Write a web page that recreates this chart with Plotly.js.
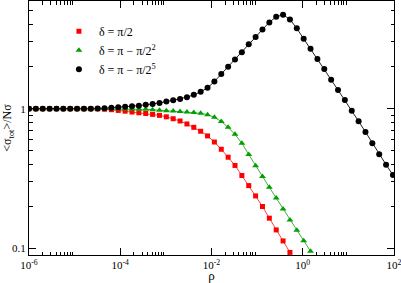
<!DOCTYPE html>
<html>
<head>
<meta charset="utf-8">
<script src="https://cdn.plot.ly/plotly-3.0.1.min.js"></script>
<style>
html,body{margin:0;padding:0;background:#fff;}
#chart{width:401px;height:283px;}
</style>
</head>
<body>
<div id="chart"></div>
<script>
// rho grid (x values)
var rho = [1e-6, 1.414e-6, 2e-6, 2.828e-6, 4e-6, 5.657e-6, 8e-6, 1.131e-5, 1.6e-5, 2.263e-5,
  3.2e-5, 4.525e-5, 6.4e-5, 9.051e-5, 1.28e-4, 1.810e-4, 2.56e-4, 3.620e-4, 5.12e-4, 7.241e-4,
  1.024e-3, 1.448e-3, 2.048e-3, 2.896e-3, 4.096e-3, 5.793e-3, 8.192e-3, 1.1585e-2, 1.6384e-2, 2.317e-2,
  3.2768e-2, 4.6341e-2, 6.5536e-2, 9.2682e-2, 0.131072, 0.185364, 0.262144, 0.370728, 0.524288, 0.741455,
  1.048576, 1.48291, 2.097152, 2.965821, 4.194304, 5.931642, 8.388608, 11.863283, 16.777216, 23.726566,
  33.554432, 47.453133, 67.108864, 94.906266];

// delta = pi/2 (red squares)
var sigmaHalfPi = [1, 1, 1, 1, 1, 1, 1, 1, 1, 1,
  0.997, 0.992, 0.984, 0.972, 0.960, 0.947, 0.935, 0.924, 0.911, 0.896,
  0.875, 0.848, 0.817, 0.778, 0.736, 0.690, 0.639, 0.578, 0.513, 0.450,
  0.393, 0.333, 0.282, 0.238, 0.200, 0.165, 0.136, 0.1135, 0.0939];

// delta = pi - pi/2^2 (green triangles)
var sigmaPiQuarter = [1, 1, 1, 1, 1, 1, 1, 1, 1, 1,
  1, 1, 1, 0.998, 0.997, 0.995, 0.993, 0.990, 0.984, 0.976,
  0.969, 0.963, 0.955, 0.947, 0.939, 0.927, 0.906, 0.868, 0.810, 0.736,
  0.656, 0.566, 0.471, 0.391, 0.328, 0.274, 0.230, 0.192, 0.160, 0.135,
  0.114, 0.0958];

// delta = pi - pi/2^5 (black circles)
var sigmaPi32 = [1, 1, 1, 1, 1, 1, 1, 1, 1, 1,
  1.003, 1.008, 1.017, 1.023, 1.034, 1.042, 1.052, 1.066, 1.080, 1.100,
  1.124, 1.148, 1.175, 1.210, 1.257, 1.320, 1.410, 1.564, 1.770, 1.995,
  2.246, 2.533, 2.884, 3.252, 3.691, 4.141, 4.541, 4.693, 4.350, 3.753,
  3.162, 2.683, 2.265, 1.921, 1.611, 1.360, 1.154, 0.968, 0.813, 0.682,
  0.566, 0.472, 0.398, 0.336];

var seriesNames = ['δ = π/2', 'δ = π − π/2<sup>2</sup>', 'δ = π − π/2<sup>5</sup>'];

// axis ticks
var xTickVals = [1e-6, 1e-4, 1e-2, 1, 100];
var xTickText = ['10<sup>-6</sup>', '10<sup>-4</sup>', '10<sup>-2</sup>', '10<sup>0</sup>', '10<sup>2</sup>'];
var yTickVals = [0.1, 1];
var yTickText = ['0.1', '1'];
var minorMultipliers = [2, 3, 4, 5, 6, 7, 8, 9];

var xMinor = [];
xTickVals.slice(0, -1).forEach(function (v) { minorMultipliers.forEach(function (m) { xMinor.push(v * m); }); });
var yMinor = [];
[0.01, 0.1, 1].forEach(function (v) { minorMultipliers.forEach(function (m) { yMinor.push(v * m); }); });

var RED = '#ff0000', GREEN = '#00a000', BLACK = '#000000';
var series = [
  {y: sigmaHalfPi, color: RED, symbol: 'square', size: 5, line: '#ff4040'},
  {y: sigmaPiQuarter, color: GREEN, symbol: 'triangle-up', size: 6, line: '#40b040'},
  {y: sigmaPi32, color: BLACK, symbol: 'circle', size: 6, line: '#222222'}
];

var traces = [];
series.forEach(function (s, i) {
  traces.push({
    x: rho.slice(0, s.y.length), y: s.y, type: 'scatter', mode: 'lines',
    line: {color: s.line, width: 1}, showlegend: false, hoverinfo: 'skip'
  });
});
series.forEach(function (s, i) {
  traces.push({
    x: rho.slice(0, s.y.length), y: s.y, type: 'scatter', mode: 'markers',
    name: seriesNames[i],
    marker: {color: s.color, symbol: s.symbol, size: s.size, line: {width: 0}},
    cliponaxis: true
  });
});

var serif = 'Liberation Serif, Times New Roman, serif';
var layout = {
  width: 401, height: 283,
  margin: {l: 29, r: 7, t: 1, b: 28},
  paper_bgcolor: '#fff', plot_bgcolor: '#fff',
  font: {family: serif, color: '#000', size: 11},
  showlegend: true,
  legend: {
    x: 0.082, y: 0.938, xanchor: 'left', yanchor: 'top',
    bgcolor: 'rgba(0,0,0,0)', font: {family: serif, size: 12, color: '#000'},
    itemwidth: 30, tracegroupgap: 0
  },
  xaxis: {
    type: 'log', range: [-6, 2.0005],
    showline: true, linecolor: '#000', linewidth: 1, mirror: 'ticks',
    showgrid: false, zeroline: false,
    ticks: 'inside', ticklen: 7, tickwidth: 1, tickcolor: '#000',
    tickmode: 'array', tickvals: xTickVals, ticktext: xTickText,
    tickfont: {family: serif, size: 11}, ticklabeloverflow: 'allow',
    minor: {tickmode: 'array', tickvals: xMinor, ticks: 'inside', ticklen: 3.5, tickwidth: 1, tickcolor: '#000', showgrid: false},
    title: {text: 'ρ', font: {family: serif, size: 13}, standoff: 0}
  },
  yaxis: {
    type: 'log', range: [Math.log10(0.09), 0.77],
    showline: true, linecolor: '#000', linewidth: 1, mirror: 'ticks',
    showgrid: false, zeroline: false,
    ticks: 'inside', ticklen: 7, tickwidth: 1, tickcolor: '#000',
    tickmode: 'array', tickvals: yTickVals, ticktext: yTickText,
    tickfont: {family: serif, size: 11},
    minor: {tickmode: 'array', tickvals: yMinor, ticks: 'inside', ticklen: 3.5, tickwidth: 1, tickcolor: '#000', showgrid: false},
    title: {text: '&lt;σ<sub>tot</sub>&gt;/Nσ', font: {family: serif, size: 12}, standoff: 0}
  }
};

Plotly.newPlot('chart', traces, layout, {displayModeBar: false, staticPlot: true});
</script>
</body>
</html>
